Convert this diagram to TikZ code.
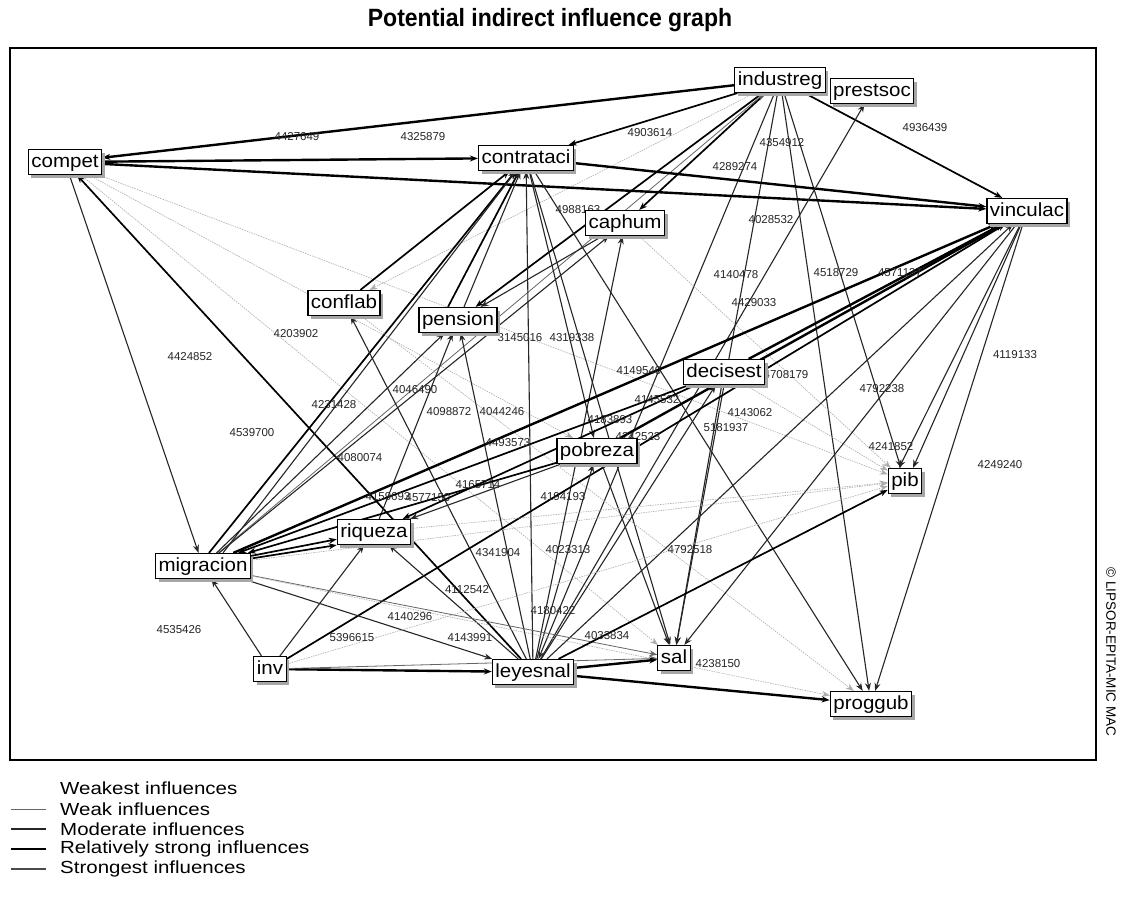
\documentclass[tikz,border=0pt]{standalone}
\usepackage{fontspec}
\setmainfont{Liberation Sans}
\newfontfamily\nodefont[FakeStretch=1.08]{Liberation Sans}
\newfontfamily\legfont[FakeStretch=1.17]{Liberation Sans}
\newfontfamily\titlefont[FakeStretch=0.92]{Liberation Sans}
\usetikzlibrary{arrows.meta,shadows}
\pgfdeclarelayer{bg}
\pgfdeclarelayer{edges}
\pgfsetlayers{bg,edges,main}
\tikzset{
  var/.style={draw=black, line width=1.2pt, fill=white, inner xsep=3pt, inner ysep=1pt,
    minimum height=25pt, text height=14pt, text depth=4pt,
    font=\nodefont\fontsize{19}{19}\selectfont,
    drop shadow={shadow xshift=3pt, shadow yshift=-3pt, fill=gray!70, opacity=1}},
  arr/.style={-{Stealth[length=8pt,width=6pt]}},
  e0/.style={arr, draw=gray!65, line width=0.6pt, dash pattern=on 1.5pt off 1pt},
  e1/.style={arr, draw=gray!80!black, line width=0.8pt},
  e2/.style={arr, draw=black!85, line width=1.1pt},
  e3/.style={arr, draw=black, line width=1.7pt},
  e4/.style={arr, draw=black, line width=2.4pt},
  lab/.style={font=\fontsize{11.5}{12}\selectfont, text=black!85, inner sep=0pt},
  leg/.style={anchor=west, font=\legfont\fontsize{17.5}{18}\selectfont, inner sep=0pt},
}
\begin{document}
\begin{tikzpicture}[x=1pt,y=-1pt]
\useasboundingbox (0,0) rectangle (1123,907);
\begin{pgfonlayer}{bg}
\fill[white] (0,0) rectangle (1123,907);
\end{pgfonlayer}
% title
\node[font=\titlefont\bfseries\fontsize{25}{25}\selectfont] (title) at (550,20) {Potential indirect influence graph};
% frame
\draw[line width=1.6pt] (10,48) rectangle (1096,760);
\node[rotate=-90, font=\fontsize{13.5}{14}\selectfont, inner sep=0pt] (copy) at (1111,652) {© LIPSOR-EPITA-MIC MAC};

% variables
\node[var] (industreg) at (780,80) {industreg};
\node[var] (prestsoc) at (872,91) {prestsoc};
\node[var] (compet) at (65,162) {compet};
\node[var] (contrataci) at (526,158) {contrataci};
\node[var] (vinculac) at (1027,211) {vinculac};
\node[var] (caphum) at (625,223) {caphum};
\node[var] (conflab) at (344,303) {conflab};
\node[var] (pension) at (458,320) {pension};
\node[var] (decisest) at (724,372) {decisest};
\node[var] (pobreza) at (597,451) {pobreza};
\node[var] (pib) at (905,481) {pib};
\node[var] (riqueza) at (374,532) {riqueza};
\node[var] (migracion) at (203,566) {migracion};
\node[var] (inv) at (270,669) {inv};
\node[var] (leyesnal) at (533,672) {leyesnal};
\node[var] (sal) at (674,658) {sal};
\node[var] (proggub) at (871,704) {proggub};

\begin{pgfonlayer}{edges}
% industreg
\draw[e4] (industreg) -- (compet);
\draw[e3] (industreg) -- (contrataci);
\draw[e3] (industreg) -- (vinculac);
\draw[e3] (industreg) -- (caphum);
\draw[e3] (industreg) -- (pension);
\draw[e0] (industreg) -- (conflab);
\draw[e2] (industreg) -- (sal);
\draw[e2] (industreg) -- (proggub);
\draw[e2] (industreg) -- (pib);
\draw[e2] (industreg) -- (leyesnal);
\draw[e1] (migracion) -- (industreg);
% compet
\draw[e4] (compet) -- (contrataci);
\draw[e4] (compet) -- (vinculac);
\draw[e2] (compet) -- (migracion);
\draw[e3] (leyesnal) -- (compet);
\draw[e0] (compet) -- (pobreza);
\draw[e0] (compet) -- (sal);
\draw[e0] (compet) -- (pib);
% contrataci
\draw[e4] (contrataci) -- (vinculac);
\draw[e2] (leyesnal) -- (contrataci);
\draw[e2] (contrataci) -- (sal);
\draw[e2] (contrataci) -- (proggub);
\draw[e2] (contrataci) -- (pobreza);
\draw[e3] ([xshift=6pt]migracion.north) -- (contrataci);
\draw[e2] ([xshift=20pt]migracion.north) -- (contrataci);
\draw[e3] ([xshift=-10pt]pension.north) -- (contrataci);
\draw[e2] ([xshift=6pt]pension.north) -- (contrataci);
\draw[e3] (conflab) -- (contrataci);
% caphum
\draw[e2] (caphum) -- (pension);
\draw[e2] (leyesnal) -- (caphum);
\draw[e0] (caphum) -- (pib);
\draw[e2] (migracion) -- (caphum);
% conflab
\draw[e2] (leyesnal) -- (conflab);
\draw[e0] (conflab) -- (proggub);
% pension
\draw[e2] (leyesnal) -- (pension);
\draw[e2] (migracion) -- (pension);
\draw[e2] (riqueza) -- (pension);
% decisest
\draw[e4] (decisest) -- (vinculac);
\draw[e3] (decisest) -- (migracion);
\draw[e2] (leyesnal) -- (decisest);
\draw[e2] (decisest) -- (sal);
\draw[e0] (decisest) -- (pib);
\draw[e3] (decisest) -- (riqueza);
% prestsoc
\draw[e2] (leyesnal) -- (prestsoc);
% vinculac
\draw[e2] (vinculac) -- ([xshift=-6pt]pib.north);
\draw[e2] (vinculac) -- ([xshift=8pt]pib.north);
\draw[e2] (vinculac) -- (proggub);
\draw[e2] (vinculac) -- (sal);
\draw[e2] (leyesnal) -- (vinculac);
\draw[e4] (migracion) -- (vinculac);
\draw[e4] (pobreza) -- (vinculac);
\draw[e3] (inv) -- (vinculac);
% pobreza
\draw[e3] (pobreza) -- (migracion);
\draw[e2] (pobreza) -- (riqueza);
\draw[e2] (leyesnal) -- (pobreza);
\draw[e2] (pobreza) -- (sal);
% riqueza
\draw[e3] ([yshift=-3pt]migracion.north east) -- (riqueza);
\draw[e3] (migracion) -- (riqueza.south west);
\draw[e2] (inv) -- (riqueza);
\draw[e2] (leyesnal) -- (riqueza);
\draw[e0] (riqueza) -- (pib);
% migracion
\draw[e2] (inv) -- (migracion);
\draw[e0] (migracion) -- (pib);
\draw[e1] (migracion) -- (sal);
\draw[e2] (migracion) -- (leyesnal);
\draw[e0] (migracion) -- (proggub);
% inv
\draw[e4] (inv) -- (leyesnal);
\draw[e1] (inv) -- (sal);
\draw[e0] (inv) -- (pib);
% leyesnal
\draw[e4] (leyesnal) -- (sal);
\draw[e4] (leyesnal) -- (proggub);
\draw[e3] (leyesnal) -- (pib);

% labels
\node[lab] (l01) at (297,137) {4427649};
\node[lab] (l02) at (423,137) {4325879};
\node[lab] (l03) at (650,133) {4903614};
\node[lab] (l04) at (782,143) {4354912};
\node[lab] (l05) at (925,128) {4936439};
\node[lab] (l06) at (735,167) {4289274};
\node[lab] (l07) at (578,210) {4988163};
\node[lab] (l08) at (771,220) {4028532};
\node[lab] (l09) at (736,275) {4140478};
\node[lab] (l10) at (836,273) {4518729};
\node[lab] (l11) at (900,273) {4571137};
\node[lab] (l12) at (754,303) {4429033};
\node[lab] (l13) at (1015,355) {4119133};
\node[lab] (l14) at (1000,465) {4249240};
\node[lab] (l15) at (882,389) {4792238};
\node[lab] (l16) at (891,447) {4241852};
\node[lab] (l17) at (786,375) {4708179};
\node[lab] (l18) at (639,371) {4149540};
\node[lab] (l19) at (750,413) {4143062};
\node[lab] (l20) at (726,428) {5181937};
\node[lab] (l21) at (657,400) {4145532};
\node[lab] (l22) at (638,437) {4242523};
\node[lab] (l23) at (610,420) {4183893};
\node[lab] (l24) at (520,338) {3145016};
\node[lab] (l25) at (572,338) {4319338};
\node[lab] (l26) at (296,334) {4203902};
\node[lab] (l27) at (190,357) {4424852};
\node[lab] (l28) at (334,405) {4231428};
\node[lab] (l29) at (252,433) {4539700};
\node[lab] (l30) at (415,390) {4046490};
\node[lab] (l31) at (449,412) {4098872};
\node[lab] (l32) at (502,412) {4044246};
\node[lab] (l33) at (508,443) {4493573};
\node[lab] (l34) at (360,458) {4080074};
\node[lab] (l35) at (388,497) {4159693};
\node[lab] (l36) at (428,498) {4577150};
\node[lab] (l37) at (478,485) {4165714};
\node[lab] (l38) at (498,553) {4341904};
\node[lab] (l39) at (568,550) {4023313};
\node[lab] (l40) at (467,590) {4112542};
\node[lab] (l41) at (410,617) {4140296};
\node[lab] (l42) at (470,638) {4143991};
\node[lab] (l43) at (553,611) {4180422};
\node[lab] (l44) at (607,636) {4033834};
\node[lab] (l45) at (690,550) {4792518};
\node[lab] (l46) at (563,497) {4194193};
\node[lab] (l47) at (352,638) {5396615};
\node[lab] (l48) at (179,630) {4535426};
\node[lab] (l49) at (718,664) {4238150};
\end{pgfonlayer}

% legend
\node[leg] (g0) at (60,788) {Weakest influences};
\node[leg] (g1) at (60,809) {Weak influences};
\node[leg] (g2) at (60,829) {Moderate influences};
\node[leg] (g3) at (60,849) {Relatively strong influences};
\node[leg] (g4) at (60,869) {Strongest influences};
\draw[gray!80!black, line width=0.8pt] (11,809) -- (46,809);
\draw[black!85, line width=1.1pt] (11,829) -- (46,829);
\draw[black, line width=1.7pt] (11,849) -- (46,849);
\draw[gray!60!black, line width=2.4pt] (11,869) -- (46,869);
\end{tikzpicture}
\end{document}
